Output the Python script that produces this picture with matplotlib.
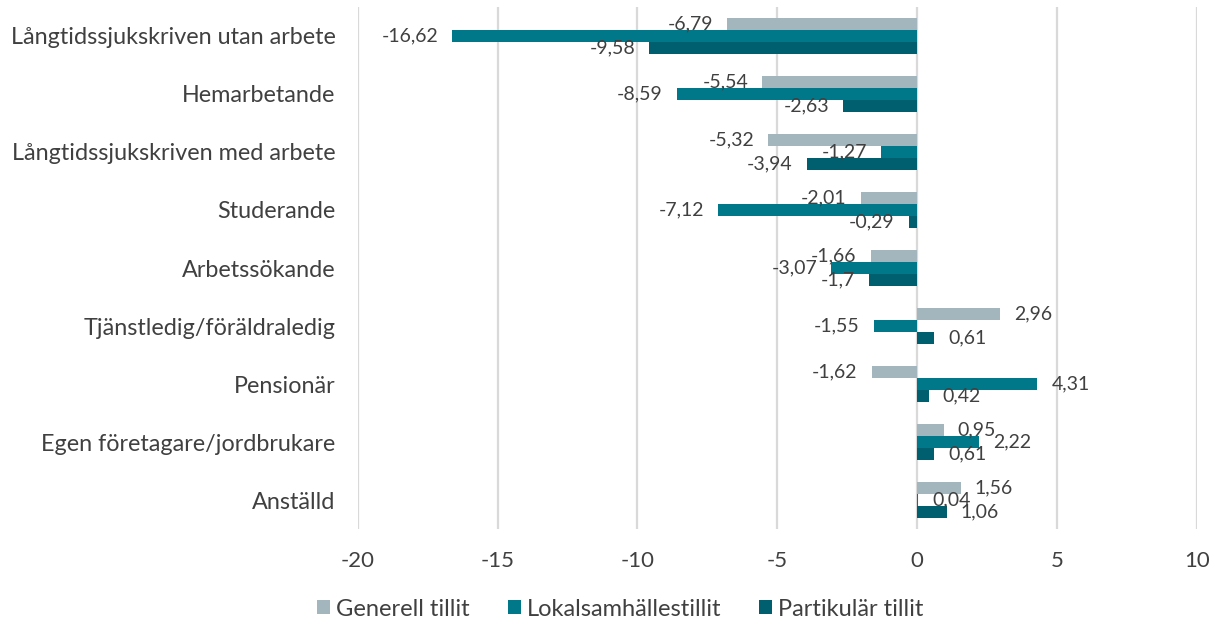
import matplotlib
matplotlib.use("Agg")
import matplotlib.pyplot as plt
import numpy as np

categories = ["Långtidssjukskriven utan arbete", "Hemarbetande", "Långtidssjukskriven med arbete",
              "Studerande", "Arbetssökande", "Tjänstledig/föräldraledig", "Pensionär",
              "Egen företagare/jordbrukare", "Anställd"]
generell = [-6.79, -5.54, -5.32, -2.01, -1.66, 2.96, -1.62, 0.95, 1.56]
lokal = [-16.62, -8.59, -1.27, -7.12, -3.07, -1.55, 4.31, 2.22, 0.04]
partikular = [-9.58, -2.63, -3.94, -0.29, -1.7, 0.61, 0.42, 0.61, 1.06]
series_names = ["Generell tillit", "Lokalsamhällestillit", "Partikulär tillit"]
colors = ["#a3b5bd", "#007889", "#005f6e"]
xticks = [-20, -15, -10, -5, 0, 5, 10]

plt.rcParams['font.family'] = ['Lato', 'DejaVu Sans']
txt = "#404040"

fig = plt.figure(figsize=(12.21, 6.24), dpi=100)
ax = fig.add_axes([0.293, 0.152, 0.687, 0.837])

n = len(categories)
y = np.arange(n)
h = 0.207
series = [generell, lokal, partikular]
for i, (vals, c, name) in enumerate(zip(series, colors, series_names)):
    pos = y + (i - 1) * h
    ax.barh(pos, vals, height=h, color=c, label=name, zorder=3)
    for p, v in zip(pos, vals):
        lab = f"{v:g}" if abs(v * 10 - round(v * 10)) < 1e-9 else f"{v:.2f}"
        lab = lab.replace('.', ',')
        off = 14 if v >= 0 else -14
        ax.annotate(lab, (v, p), xytext=(off, 0), textcoords='offset pixels',
                    ha='left' if v >= 0 else 'right', va='center', fontsize=14, color=txt, zorder=4)

ax.set_ylim(n - 0.5, -0.5)
ax.set_xlim(-20, 10)
ax.set_xticks(xticks)
ax.set_xticklabels([str(t) for t in xticks], fontsize=16, color=txt)
ax.set_yticks(y)
ax.set_yticklabels(categories, fontsize=16.8, color=txt)
ax.tick_params(axis='both', length=0)
ax.tick_params(axis='y', pad=16)
ax.tick_params(axis='x', pad=16)
ax.grid(axis='x', color='#d9d9d9', linewidth=1.6, zorder=0)
for s in ax.spines.values():
    s.set_visible(False)

leg = fig.legend(loc='center', bbox_to_anchor=(0.508, 0.024), ncol=3, frameon=False,
                 fontsize=17, handlelength=0.55, handleheight=0.55, columnspacing=1.6,
                 handletextpad=0.25, labelcolor=txt)

fig.savefig("out.png", dpi=100)
